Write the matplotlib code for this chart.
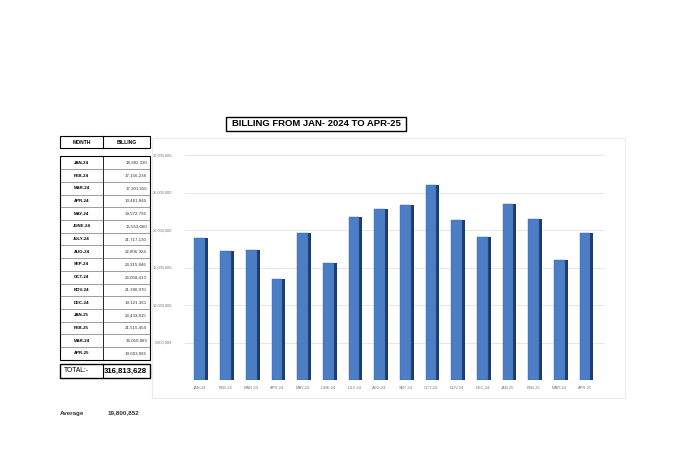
import matplotlib.pyplot as plt
from matplotlib.patches import Rectangle
from matplotlib.ticker import FuncFormatter

plt.rcParams['font.family'] = ['Liberation Sans', 'DejaVu Sans']

months = ["JAN-24", "FEB-24", "MAR-24", "APR-24", "MAY-24", "JUNE-24", "JULY-24", "AUG-24",
          "SEP-24", "OCT-24", "NOV-24", "DEC-24", "JAN-25", "FEB-25", "MAR-24", "APR-25"]
billing = [18982330, 17156238, 17301555, 13461845, 19572796, 15553060, 21717130, 22806924,
           23315846, 26058413, 21380970, 19121361, 23433815, 21515454, 16050883, 19603065]
total_label = "316,813,628"
average_label = "19,800,852"
title = "BILLING FROM JAN- 2024 TO APR-25"

W, H = 680, 451
fig = plt.figure(figsize=(W / 100, H / 100), dpi=100)


def fx(px):
    return px / W


def fy(py):
    return 1 - py / H


# outer chart frame
fig.patches.append(Rectangle((fx(152), fy(398)), fx(473), 260 / H, transform=fig.transFigure,
                             fill=False, edgecolor="#ececec", linewidth=0.8))

# title box
fig.patches.append(Rectangle((fx(226), fy(131)), fx(180), 14 / H, transform=fig.transFigure,
                             fill=False, edgecolor="black", linewidth=1.0))
fig.text(fx(316), fy(124), title, ha="center", va="center", fontsize=6.8, fontweight="bold")

# bar chart
ax = fig.add_axes([fx(185), fy(380), fx(420), 225 / H])
x = list(range(len(months)))
ax.bar([i + 0.12 for i in x], billing, width=0.42, color="#1d3b6e", zorder=2)
ax.bar(x, billing, width=0.42, color="#4b7ec4", edgecolor="#3a68a8", linewidth=0.3, zorder=3)
ax.set_xlim(-0.58, 15.78)
ax.set_ylim(0, 30000000)
ax.set_yticks(range(0, 30000001, 5000000))
ax.yaxis.set_major_formatter(FuncFormatter(lambda v, p: "" if v == 0 else f"{int(v):,}"))
ax.set_xticks(x)
ax.set_xticklabels(months)
ax.tick_params(axis="both", length=0, labelsize=2.9, colors="#777777")
ax.tick_params(axis="y", pad=9)
ax.tick_params(axis="x", pad=4)
ax.grid(axis="y", color="#e6e6e6", linewidth=0.7, zorder=0)
for s in ax.spines.values():
    s.set_visible(False)

# table on the left
xl, xm, xr = 60, 103, 150
fig.patches.append(Rectangle((fx(xl), fy(148)), fx(xr - xl), 12 / H, transform=fig.transFigure,
                             fill=False, edgecolor="black", linewidth=0.8))
fig.lines.append(plt.Line2D([fx(xm), fx(xm)], [fy(148), fy(136)], transform=fig.transFigure,
                            color="black", linewidth=0.8))
fig.text(fx((xl + xm) / 2), fy(142), "MONTH", ha="center", va="center", fontsize=3.6, fontweight="bold")
fig.text(fx((xm + xr) / 2), fy(142), "BILLING", ha="center", va="center", fontsize=3.6, fontweight="bold")

top, row_h = 156.5, 12.7
n = len(months)
fig.patches.append(Rectangle((fx(xl), fy(top + n * row_h)), fx(xr - xl), n * row_h / H,
                             transform=fig.transFigure, fill=False, edgecolor="black", linewidth=0.8))
fig.lines.append(plt.Line2D([fx(xm), fx(xm)], [fy(top), fy(top + n * row_h)], transform=fig.transFigure,
                            color="black", linewidth=0.6))
for i, (m, v) in enumerate(zip(months, billing)):
    yc = top + (i + 0.5) * row_h
    if i > 0:
        fig.lines.append(plt.Line2D([fx(xl), fx(xr)], [fy(top + i * row_h)] * 2, transform=fig.transFigure,
                                    color="#555555", linewidth=0.4))
    fig.text(fx((xl + xm) / 2), fy(yc), m, ha="center", va="center", fontsize=3.2, fontweight="bold")
    fig.text(fx(xr - 3), fy(yc), f"{v:,}", ha="right", va="center", fontsize=3.2, color="#333333")

fig.patches.append(Rectangle((fx(xl), fy(378)), fx(xr - xl), 14 / H, transform=fig.transFigure,
                             fill=False, edgecolor="black", linewidth=1.0))
fig.lines.append(plt.Line2D([fx(xm), fx(xm)], [fy(378), fy(364)], transform=fig.transFigure,
                            color="black", linewidth=0.8))
fig.text(fx(64), fy(371), "TOTAL:-", ha="left", va="center", fontsize=4.8)
fig.text(fx(xr - 3), fy(371), total_label, ha="right", va="center", fontsize=5.6, fontweight="bold")

fig.text(fx(60), fy(413), "Average", ha="left", va="center", fontsize=4.5, fontweight="bold", color="#333333")
fig.text(fx(108), fy(413), average_label, ha="left", va="center", fontsize=4.5, fontweight="bold", color="#333333")

fig.savefig("out.png", dpi=100)
